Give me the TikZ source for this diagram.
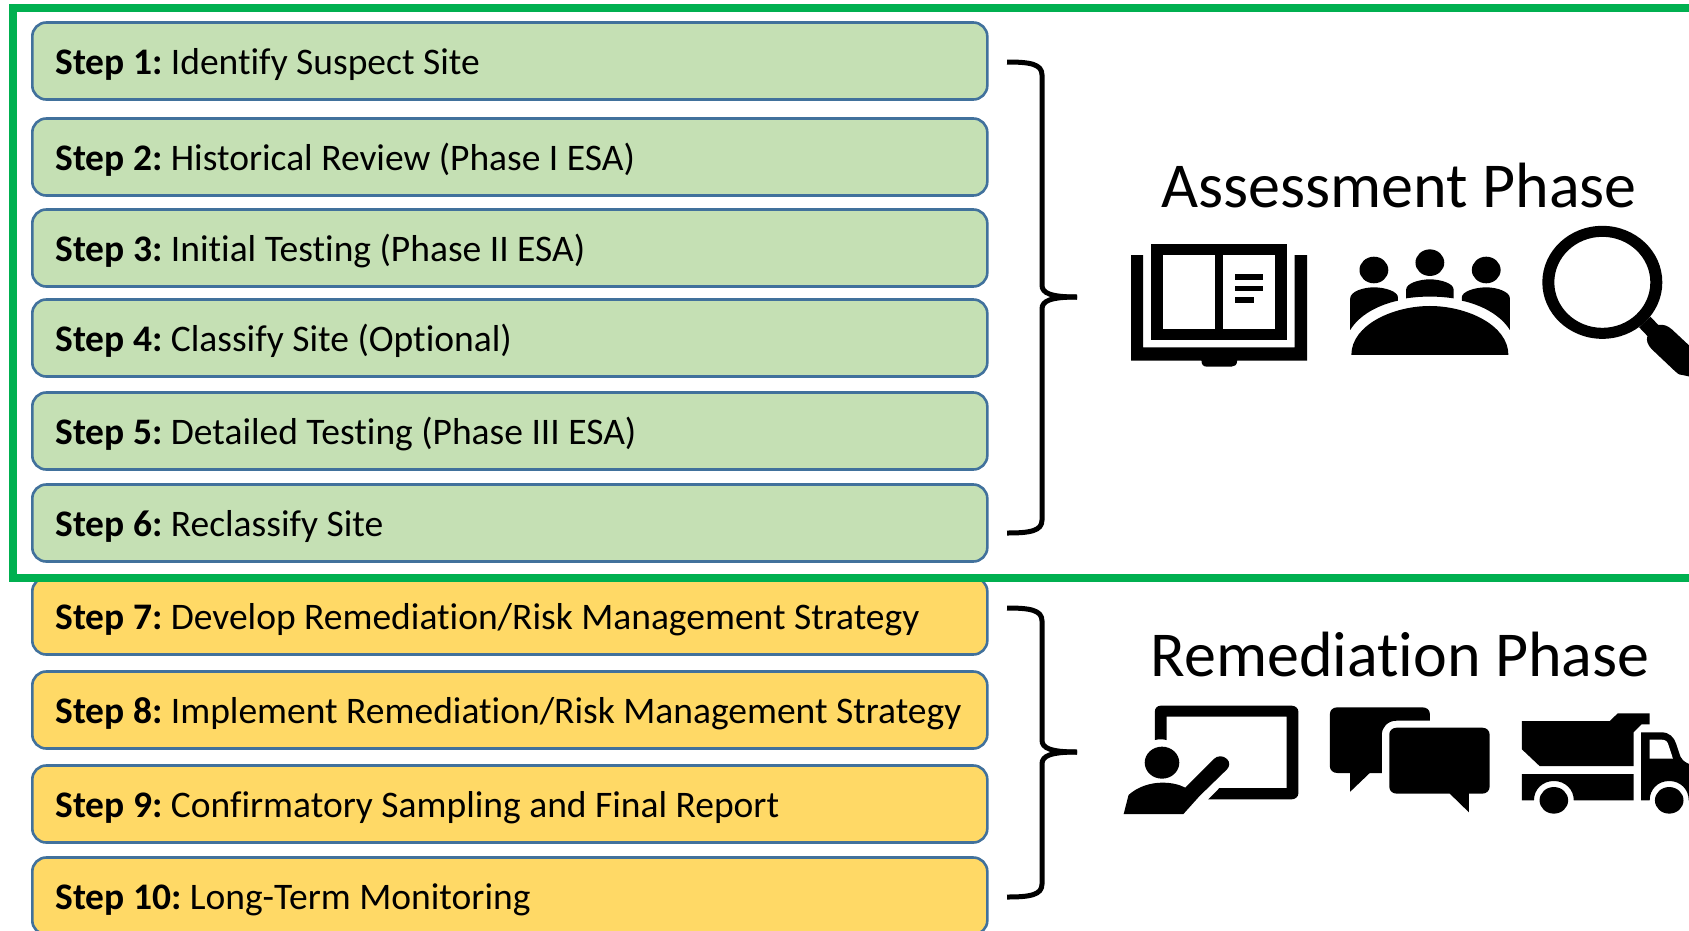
\documentclass[tikz,border=0pt]{standalone}
\usepackage{fontspec}
\setmainfont[Ligatures=NoCommon]{Carlito}
\definecolor{gfill}{HTML}{C5E0B4}
\definecolor{yfill}{HTML}{FFD966}
\definecolor{edgeblue}{HTML}{41719C}
\definecolor{framegreen}{HTML}{00B050}
\newcommand\stepfontsetup{\fontsize{37.5}{40}\selectfont\frenchspacing}
\tikzset{
 stepbox/.style={draw=edgeblue,line width=2.6pt,rounded corners=14pt,minimum width=955pt,minimum height=77pt,
   anchor=west,inner xsep=23pt,inner ysep=0pt,text width=909pt,align=flush left,font=\stepfontsetup,text height=30pt,text depth=4pt},
 gbox/.style={stepbox,fill=gfill},
 ybox/.style={stepbox,fill=yfill},
 brace/.style={draw=black,line width=5pt,fill=none},
 heading/.style={font=\fontsize{64}{68}\selectfont,inner sep=0pt},
 ink/.style={fill=black,draw=none},
 blank/.style={fill=white,draw=none},
}
\begin{document}
\begin{tikzpicture}[x=1pt,y=-1pt]
\useasboundingbox (0,0) rectangle (1689,930);
\clip (0,0) rectangle (1689,930);
\fill[white] (0,0) rectangle (1689,930);
\node[gbox] (s1) at (31,61) {\textbf{Step 1:} Identify Suspect Site};
\node[gbox] (s2) at (31,157) {\textbf{Step 2:} Historical Review (Phase I ESA)};
\node[gbox] (s3) at (31,248) {\textbf{Step 3:} Initial Testing (Phase II ESA)};
\node[gbox] (s4) at (31,338) {\textbf{Step 4:} Classify Site (Optional)};
\node[gbox] (s5) at (31,431) {\textbf{Step 5:} Detailed Testing (Phase III ESA)};
\node[gbox] (s6) at (31,523) {\textbf{Step 6:} Reclassify Site};
\node[ybox] (s7) at (31,616) {\textbf{Step 7:} Develop Remediation/Risk Management Strategy};
\node[ybox] (s8) at (31,710) {\textbf{Step 8:} Implement Remediation/Risk Management Strategy};
\node[ybox] (s9) at (31,804) {\textbf{Step 9:} Confirmatory Sampling and Final Report};
\node[ybox] (s10) at (31,896) {\textbf{Step 10:} Long-Term Monitoring};
\draw[framegreen,line width=8pt] (12.5,8.2) rectangle (1720,578);
% braces
\coordinate (b1t) at (1007,62); \coordinate (b1m) at (1077,297); \coordinate (b1b) at (1007,533);
\draw[brace] (b1t) .. controls (1030,62) and (1042,64) .. (1042,75) -- (1042,285) .. controls (1042,293) and (1050,297) .. (b1m);
\draw[brace] (b1m) .. controls (1050,297) and (1042,301) .. (1042,309) -- (1042,520) .. controls (1042,531) and (1030,533) .. (b1b);
\coordinate (b2t) at (1007,608); \coordinate (b2m) at (1077,752); \coordinate (b2b) at (1007,897);
\draw[brace] (b2t) .. controls (1030,608) and (1042,610) .. (1042,621) -- (1042,740) .. controls (1042,748) and (1050,752) .. (b2m);
\draw[brace] (b2m) .. controls (1050,752) and (1042,756) .. (1042,764) -- (1042,884) .. controls (1042,895) and (1030,897) .. (b2b);
\node[heading] (assess) at (1399,186) {Assessment Phase};
\node[heading] (remed) at (1400,655) {Remediation Phase};
% assessment icons
\begin{scope}[shift={(1100,210)},x=0.3757pt,y=-0.3333pt]
 % book
 \fill[ink] (83,135) -- (115,135) -- (115,412) -- (518,412) -- (518,135) -- (551,135) -- (551,452) -- (365,452)
   .. controls (365,465) and (358,470) .. (350,470) -- (285,470) .. controls (276,470) and (270,465) .. (270,452) -- (83,452) -- cycle;
 \fill[ink] (136,102) rectangle (497,391);
 \fill[blank] (167,135) rectangle (306,356);
 \fill[blank] (327,135) rectangle (467,356);
 \fill[ink] (359,193) rectangle (434,209);
 \fill[ink] (359,227) rectangle (434,243);
 \fill[ink] (359,260) rectangle (411,278);
 % people
 \fill[ink] (729,180) ellipse [x radius=14.4pt,y radius=13.3pt];
 \fill[ink] (878,158) ellipse [x radius=14.4pt,y radius=13.3pt];
 \fill[ink] (1028,180) ellipse [x radius=14.4pt,y radius=13.3pt];
 \fill[ink] (666,360) -- (666,265) .. controls (666,245) and (700,232) .. (729,232) .. controls (760,232) and (793,245) .. (793,262) -- (793,272) .. controls (740,285) and (690,315) .. (666,360) -- cycle;
 \fill[ink] (1091,360) -- (1091,265) .. controls (1091,245) and (1057,232) .. (1028,232) .. controls (997,232) and (963,245) .. (963,262) -- (963,272) .. controls (1016,285) and (1066,315) .. (1091,360) -- cycle;
 \fill[ink] (815,265) -- (815,238) .. controls (815,220) and (850,208) .. (878,208) .. controls (906,208) and (941,220) .. (941,238) -- (941,265) .. controls (900,258) and (856,258) .. (815,265) -- cycle;
 \fill[ink] (669,435) .. controls (669,345) and (780,288) .. (878,288) .. controls (976,288) and (1087,345) .. (1087,435) -- cycle;
 % magnifier
 \fill[ink,even odd rule] (1337,217) ellipse [x radius=60pt,y radius=56.5pt] (1337,217) ellipse [x radius=48pt,y radius=45.5pt];
 \fill[ink] (1435,352) -- (1465,320) -- (1486,345) .. controls (1500,342) and (1512,348) .. (1522,358) -- (1600,440) -- (1590,505) -- (1550,495) .. controls (1540,495) and (1535,488) .. (1528,481) -- (1468,417) .. controls (1458,405) and (1453,392) .. (1457,378) -- cycle;
\end{scope}
% remediation icons
\begin{scope}[shift={(1100,690)},x=0.3757pt,y=-0.3333pt]
 % teacher
 \fill[ink] (146,150) -- (146,65) .. controls (146,55) and (152,47) .. (162,47) -- (510,47) .. controls (520,47) and (528,55) .. (528,65) -- (528,310) .. controls (528,320) and (520,328) .. (510,328) -- (288,328) -- (318,294) -- (497,294) -- (497,80) -- (177,80) -- (177,150) .. controls (165,147) and (158,147) .. (146,150) -- cycle;
 \fill[ink] (165,218) ellipse [x radius=17.3pt,y radius=16pt];
 \fill[ink] (63,372) -- (76,315) .. controls (100,290) and (135,278) .. (165,278) .. controls (190,278) and (210,283) .. (227,293) -- (303,207) .. controls (312,196) and (328,196) .. (338,207) .. controls (346,216) and (346,228) .. (338,238) -- (265,318) -- (222,372) -- cycle;
 % chat
 \fill[ink] (612,72) .. controls (612,60) and (620,52) .. (632,52) -- (858,52) .. controls (870,52) and (878,60) .. (878,72) -- (878,92) -- (790,92) .. controls (765,92) and (750,112) .. (750,135) -- (750,249) -- (718,249) -- (666,305) -- (666,249) -- (632,249) .. controls (620,249) and (612,240) .. (612,230) -- cycle;
 \fill[ink] (770,133) .. controls (770,122) and (778,113) .. (790,113) -- (1017,113) .. controls (1029,113) and (1037,122) .. (1037,133) -- (1037,290) .. controls (1037,302) and (1029,311) .. (1017,311) -- (982,311) -- (982,367) -- (931,311) -- (790,311) .. controls (778,311) and (770,302) .. (770,290) -- cycle;
 % truck
 \fill[ink] (1123,93) -- (1357,93) -- (1378,70) -- (1463,70) -- (1463,103) -- (1441,103) -- (1420,127) -- (1420,228) -- (1170,228) -- (1123,178) -- cycle;
 \fill[ink] (1123,252) -- (1420,252) -- (1420,331) -- (1261,331) .. controls (1261,298) and (1238,273) .. (1208,273) .. controls (1178,273) and (1155,298) .. (1155,331) -- (1123,331) -- cycle;
 \fill[ink] (1208,331) ellipse [x radius=14.3pt,y radius=13.3pt];
 \fill[ink] (1440,127) -- (1495,127) .. controls (1515,127) and (1528,142) .. (1533,160) -- (1545,200) .. controls (1550,215) and (1570,225) .. (1600,235) -- (1600,331) -- (1567,331) .. controls (1567,298) and (1545,273) .. (1515,273) .. controls (1485,273) and (1463,298) .. (1463,331) -- (1440,331) -- cycle;
 \fill[blank] (1463,149) -- (1495,149) .. controls (1505,149) and (1511,155) .. (1513,165) -- (1525,206) -- (1463,206) -- cycle;
 \fill[ink] (1515,331) ellipse [x radius=14.3pt,y radius=13.3pt];
\end{scope}
\end{tikzpicture}
\end{document}
